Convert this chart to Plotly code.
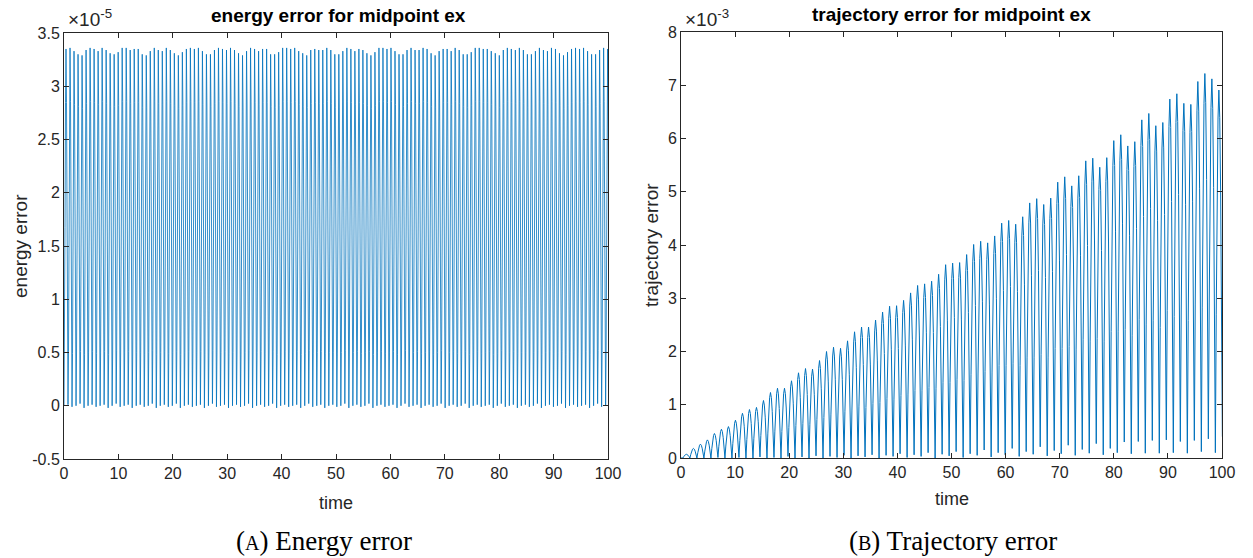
import numpy as np
import plotly.graph_objects as go

# ---------------- data ----------------
# Energy error (units of 1e-5): one value per oscillation peak / trough
energy_period = 0.7375
energy_peaks = [
    3.35, 3.36, 3.33, 3.30, 3.29, 3.34, 3.36, 3.35,
    3.33, 3.36, 3.34, 3.31, 3.30, 3.32, 3.36, 3.36,
    3.34, 3.35, 3.35, 3.30, 3.29, 3.33, 3.36, 3.34,
    3.33, 3.36, 3.34, 3.31, 3.29, 3.32, 3.35, 3.36,
    3.35, 3.36, 3.33, 3.30, 3.30, 3.34, 3.36, 3.35,
    3.34, 3.36, 3.34, 3.31, 3.29, 3.33, 3.36, 3.35,
    3.33, 3.35, 3.35, 3.30, 3.30, 3.32, 3.36, 3.36,
    3.35, 3.36, 3.33, 3.31, 3.29, 3.34, 3.35, 3.34,
    3.34, 3.36, 3.34, 3.30, 3.30, 3.33, 3.36, 3.35,
    3.33, 3.35, 3.34, 3.31, 3.29, 3.32, 3.36, 3.36,
    3.35, 3.36, 3.33, 3.30, 3.30, 3.34, 3.36, 3.34,
    3.34, 3.36, 3.35, 3.31, 3.29, 3.33, 3.35, 3.35,
    3.33, 3.36, 3.34, 3.30, 3.30, 3.32, 3.36, 3.36,
    3.35, 3.35, 3.33, 3.31, 3.29, 3.34, 3.36, 3.35,
    3.34, 3.36, 3.34, 3.30, 3.30, 3.33, 3.36, 3.34,
    3.33, 3.36, 3.35, 3.31, 3.29, 3.32, 3.35, 3.36,
    3.35, 3.36, 3.33, 3.30, 3.30, 3.34, 3.36, 3.35,
]
energy_troughs = [
    0.00, 0.01, -0.01, 0.00, 0.02, -0.02, 0.00, 0.01,
    -0.01, 0.00, 0.01, -0.02, 0.00, 0.02, -0.01, 0.00,
    0.01, -0.02, 0.00, 0.01, -0.01, 0.00, 0.02, -0.02,
    0.00, 0.01, -0.01, 0.00, 0.02, -0.02, 0.00, 0.01,
    -0.01, 0.00, 0.01, -0.02, 0.00, 0.02, -0.01, 0.00,
    0.01, -0.02, 0.00, 0.01, -0.01, 0.00, 0.02, -0.02,
    0.00, 0.01, -0.01, 0.00, 0.02, -0.02, 0.00, 0.01,
    -0.01, 0.00, 0.01, -0.02, 0.00, 0.02, -0.01, 0.00,
    0.01, -0.02, 0.00, 0.01, -0.01, 0.00, 0.02, -0.02,
    0.00, 0.01, -0.01, 0.00, 0.02, -0.02, 0.00, 0.01,
    -0.01, 0.00, 0.01, -0.02, 0.00, 0.02, -0.01, 0.00,
    0.01, -0.02, 0.00, 0.01, -0.01, 0.00, 0.02, -0.02,
    0.00, 0.01, -0.01, 0.00, 0.02, -0.02, 0.00, 0.01,
    -0.01, 0.00, 0.01, -0.02, 0.00, 0.02, -0.01, 0.00,
    0.01, -0.02, 0.00, 0.01, -0.01, 0.00, 0.02, -0.02,
    0.00, 0.01, -0.01, 0.00, 0.02, -0.02, 0.00, 0.01,
    -0.01, 0.00, 0.01, -0.02, 0.00, 0.02, -0.01, 0.00,
    0.01,
]

# Trajectory error (units of 1e-3): one value per hump peak / trough
traj_first_trough = 0.3525
traj_period = 1.295
traj_peaks = [
    0.07, 0.18, 0.26, 0.34, 0.46, 0.54, 0.59, 0.71, 0.84, 0.91,
    0.95, 1.08, 1.23, 1.31, 1.31, 1.45, 1.60, 1.68, 1.67, 1.83,
    2.00, 2.08, 2.06, 2.20, 2.37, 2.46, 2.46, 2.59, 2.74, 2.85,
    2.86, 2.96, 3.10, 3.24, 3.27, 3.32, 3.45, 3.63, 3.66, 3.67,
    3.82, 4.01, 4.07, 4.04, 4.17, 4.41, 4.46, 4.39, 4.53, 4.79,
    4.87, 4.76, 4.88, 5.18, 5.28, 5.11, 5.30, 5.58, 5.63, 5.46,
    5.64, 5.96, 6.07, 5.86, 5.94, 6.35, 6.47, 6.24, 6.30, 6.74,
    6.84, 6.66, 6.64, 7.07, 7.22, 7.12, 6.91,
]
traj_troughs = [
    0.00, 0.00, 0.00, 0.00, 0.00, 0.01, 0.00, 0.00, 0.01, 0.00,
    0.00, 0.02, 0.00, 0.01, 0.00, 0.03, 0.00, 0.02, 0.00, 0.04,
    0.00, 0.03, 0.01, 0.05, 0.00, 0.04, 0.02, 0.06, 0.00, 0.05,
    0.03, 0.08, 0.01, 0.06, 0.03, 0.10, 0.00, 0.07, 0.04, 0.12,
    0.01, 0.08, 0.05, 0.15, 0.02, 0.10, 0.06, 0.18, 0.03, 0.12,
    0.07, 0.21, 0.04, 0.14, 0.08, 0.24, 0.05, 0.16, 0.09, 0.27,
    0.06, 0.18, 0.10, 0.30, 0.08, 0.31, 0.09, 0.33, 0.09, 0.34,
    0.10, 0.31, 0.09, 0.33, 0.12, 0.36, 0.10, 0.40,
]

# hump shapes (fraction of the rise from trough to peak, per 1/8 of a hump)
energy_shape = [0.0, 0.15, 0.50, 0.85, 1.0, 0.85, 0.50, 0.15]
traj_shape = [0.0, 0.38, 0.71, 0.92, 1.0, 0.92, 0.71, 0.38]

x_ticks = [0, 10, 20, 30, 40, 50, 60, 70, 80, 90, 100]
energy_ticks = [-0.5, 0, 0.5, 1, 1.5, 2, 2.5, 3, 3.5]
traj_ticks = [0, 1, 2, 3, 4, 5, 6, 7, 8]


def build_wave(t0, period, troughs, peaks, shape):
    xs, ys = [], []
    n = len(shape)
    for k, pk in enumerate(peaks):
        for j, fr in enumerate(shape):
            base = troughs[k] if j <= n // 2 else troughs[k + 1]
            xs.append(t0 + period * (k + j / n))
            ys.append(base + (pk - base) * fr)
    xs.append(t0 + period * len(peaks))
    ys.append(troughs[len(peaks)])
    return xs, ys


ex, ey = build_wave(0.0, energy_period, energy_troughs, energy_peaks, energy_shape)
tx, ty = build_wave(traj_first_trough, traj_period, traj_troughs, traj_peaks, traj_shape)
tx = [0.0] + tx
ty = [0.0] + ty

W, H = 1253, 558
ML, MR, MT, MB = 64, 31, 32, 99
PW, PH = W - ML - MR, H - MT - MB
LINE = "#0072BD"
AX = "#262626"
FONT = "Liberation Sans, Arial, Helvetica, sans-serif"


def px(x):
    return (x - ML) / PW


def py(y):
    return (H - MB - y) / PH


fig = go.Figure()
fig.add_trace(go.Scatter(x=ex, y=ey, mode="lines", line=dict(color=LINE, width=0.8),
                         xaxis="x", yaxis="y", showlegend=False, hoverinfo="skip"))
fig.add_trace(go.Scatter(x=tx, y=ty, mode="lines", line=dict(color=LINE, width=1),
                         xaxis="x2", yaxis="y2", showlegend=False, hoverinfo="skip"))

axis_common = dict(
    showline=True, linecolor=AX, linewidth=1, mirror="ticks",
    ticks="inside", ticklen=5, tickcolor=AX, tickwidth=1,
    showgrid=False, zeroline=False, automargin=False,
    tickfont=dict(family=FONT, size=16, color=AX),
)

fig.update_layout(
    width=W, height=H,
    margin=dict(l=ML, r=MR, t=MT, b=MB, autoexpand=False),
    paper_bgcolor="white", plot_bgcolor="white",
    xaxis=dict(domain=[px(64), px(608)], range=[0, 100], tickvals=x_ticks,
               ticktext=[str(v) for v in x_ticks], anchor="y", **axis_common),
    yaxis=dict(domain=[py(459), py(33)], range=[-0.5, 3.5], tickvals=energy_ticks,
               ticktext=[("%g" % v) for v in energy_ticks], anchor="x", **axis_common),
    xaxis2=dict(domain=[px(681), px(1222)], range=[0, 100], tickvals=x_ticks,
                ticktext=[str(v) for v in x_ticks], anchor="y2", **axis_common),
    yaxis2=dict(domain=[py(458), py(32)], range=[0, 8], tickvals=traj_ticks,
                ticktext=[str(v) for v in traj_ticks], anchor="x2", **axis_common),
)

ann = []
# titles
ann.append(dict(x=px(338), y=py(16), text="<b>energy error for midpoint ex</b>",
                font=dict(family=FONT, size=19, color="black")))
ann.append(dict(x=px(952), y=py(15), text="<b>trajectory error for midpoint ex</b>",
                font=dict(family=FONT, size=19, color="black")))
# exponents
ann.append(dict(x=px(66), y=py(18), text="×10<sup>-5</sup>", xanchor="left",
                font=dict(family=FONT, size=19, color=AX)))
ann.append(dict(x=px(683), y=py(18), text="×10<sup>-3</sup>", xanchor="left",
                font=dict(family=FONT, size=19, color=AX)))
# axis labels
ann.append(dict(x=px(336), y=py(503), text="time",
                font=dict(family=FONT, size=18, color=AX)))
ann.append(dict(x=px(952), y=py(499), text="time",
                font=dict(family=FONT, size=18, color=AX)))
ann.append(dict(x=px(20), y=py(246), text="energy error", textangle=-90,
                font=dict(family=FONT, size=19, color=AX)))
ann.append(dict(x=px(651), y=py(245), text="trajectory error", textangle=-90,
                font=dict(family=FONT, size=19, color=AX)))
# captions
SERIF = "Liberation Serif, DejaVu Serif, serif"
ann.append(dict(x=px(324), y=py(541),
                text="(<span style='font-size:20px'>A</span>) Energy error",
                font=dict(family=SERIF, size=27, color="black")))
ann.append(dict(x=px(953), y=py(541),
                text="(<span style='font-size:20px'>B</span>) Trajectory error",
                font=dict(family=SERIF, size=27, color="black")))

for a in ann:
    a.update(xref="paper", yref="paper", showarrow=False)
    a.setdefault("xanchor", "center")
    a.setdefault("yanchor", "middle")
fig.update_layout(annotations=ann)

fig.write_html("out.html", config={"displayModeBar": False},
               post_script="document.body.style.margin='0';document.body.style.overflow='hidden';")
